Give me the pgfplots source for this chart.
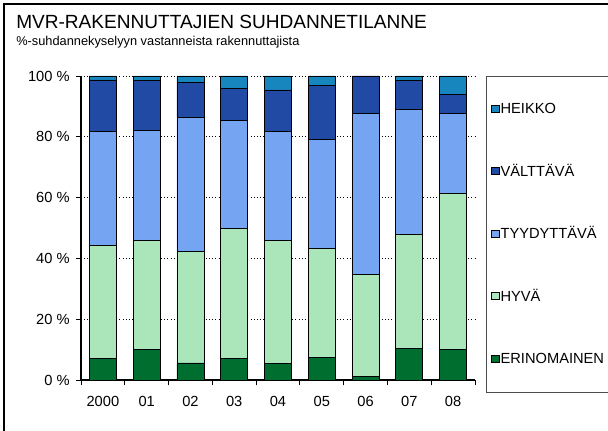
\documentclass[border=0pt]{standalone}
\usepackage{pgfplots}
\pgfplotsset{compat=1.18}
\usepackage{pgfplotstable}
\usepackage{fontspec}
\setmainfont{Liberation Sans}

\definecolor{cHeikko}{RGB}{24,134,190}
\definecolor{cVaLt}{RGB}{33,74,165}
\definecolor{cTyyd}{RGB}{117,165,242}
\definecolor{cHyva}{RGB}{171,229,186}
\definecolor{cErin}{RGB}{0,110,46}

% values in %
\pgfplotstableread{
x erin hyva tyyd valt heikko
0 7.0 37.3 37.5 16.9 1.3
1 10.0 36.0 36.0 16.6 1.4
2 5.6 36.6 44.2 11.6 2.0
3 7.0 42.8 35.6 10.5 4.1
4 5.3 40.5 36.0 13.6 4.6
5 7.3 35.9 35.8 17.9 3.1
6 1.3 33.3 53.2 12.2 0.0
7 10.5 37.5 41.1 9.5 1.4
8 9.9 51.6 26.3 6.2 6.0
}\survey

\begin{document}
\begin{tikzpicture}[x=0.75pt,y=0.75pt]
    \useasboundingbox (0,0) rectangle (608,431);
    % outer frame (right and bottom fall outside the picture)
    \draw[line width=0.8pt] (4,0) -- (4,427) -- (608,427);
    \node[anchor=base west,inner sep=0pt,font=\fontsize{14.3}{17}\selectfont] at (16,402) {MVR-RAKENNUTTAJIEN SUHDANNETILANNE};
    \node[anchor=base west,inner sep=0pt,font=\fontsize{9.6}{11}\selectfont] at (16,385) {\%-suhdannekyselyyn vastanneista rakennuttajista};
    % legend frame
    \draw[line width=0.6pt,black!70] (608,355) -- (486,355) -- (486,39) -- (608,39);

    \begin{axis}[
        at={(60.75pt,38.25pt)}, anchor=south west,
        scale only axis, width=295.5pt, height=228pt,
        ybar stacked, bar width=20.25pt,
        xmin=-0.5, xmax=8.5, ymin=0, ymax=100,
        xtick={0,...,8},
        xticklabels={2000,01,02,03,04,05,06,07,08},
        major x tick style={draw=none},
        minor xtick={-0.5,0.5,...,8.5},
        minor x tick style={black, line width=0.6pt},
        minor tick length=4pt,
        ytick={0,20,...,100},
        yticklabel={\pgfmathprintnumber{\tick}~\%},
        major tick length=4pt,
        tick align=outside,
        y tick style={black, line width=0.6pt},
        axis lines*=left,
        axis line style={black, line width=0.8pt, -},
        ymajorgrids,
        grid style={black, dotted, line width=0.6pt},
        /pgf/number format/assume math mode=true,
        tick label style={font=\fontsize{11}{13}\selectfont},
        xticklabel style={yshift=-5pt},
        yticklabel style={xshift=-1pt},
        reverse legend,
        legend cell align=left,
        legend image code/.code={\draw[#1, line width=0.5pt] (0pt,-2.75pt) rectangle (5.5pt,2.75pt);},
        legend style={draw=none, fill=none, inner sep=0pt,
            at={(1.0406,0.911)}, anchor=north west,
            row sep=39.1pt,
            font=\fontsize{11}{13}\selectfont,
            nodes={inner ysep=0pt, inner xsep=1pt, text height=7.8pt, text depth=0pt}},
        every axis plot/.append style={draw=black, line width=0.6pt},
    ]
        \addplot[fill=cErin] table[x=x,y=erin] {\survey};
        \addplot[fill=cHyva] table[x=x,y=hyva] {\survey};
        \addplot[fill=cTyyd] table[x=x,y=tyyd] {\survey};
        \addplot[fill=cVaLt] table[x=x,y=valt] {\survey};
        \addplot[fill=cHeikko] table[x=x,y=heikko] {\survey};
        \legend{ERINOMAINEN,HYVÄ,TYYDYTTÄVÄ,VÄLTTÄVÄ,HEIKKO}
        \draw[black!50, line width=0.6pt] (rel axis cs:1,0) -- (rel axis cs:1,1);
    \end{axis}
\end{tikzpicture}
\end{document}
